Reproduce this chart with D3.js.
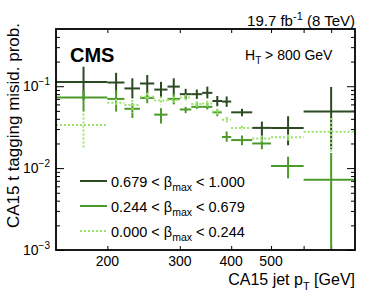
<!DOCTYPE html>
<html>
<head>
<meta charset="utf-8">
<script src="https://cdn.jsdelivr.net/npm/d3@7"></script>
<style>
body { margin: 0; background: #fff; }
text { font-family: "Liberation Sans", Arial, sans-serif; fill: #000; }
</style>
</head>
<body>
<div id="chart"></div>
<script>
// bin edges of the CA15 jet pT histogram (GeV)
var binEdges = [150, 200, 220, 240, 260, 280, 300, 320, 340, 360, 380, 400, 450, 500, 600, 800];

// 0.679 < beta_max < 1.000
var highVal  = [0.113, 0.111, 0.094, 0.108, 0.091, 0.099, 0.080, 0.080, 0.083, 0.066, 0.065, 0.048, 0.031, 0.031, 0.049];
var highUp   = [0.060, 0.035, 0.031, 0.029, 0.022, 0.026, 0.013, 0.011, 0.016, 0.010, 0.010, 0.005, 0.006, 0.012, 0.049];
var highDown = [0.045, 0.029, 0.023, 0.026, 0.018, 0.021, 0.010, 0.010, 0.012, 0.009, 0.009, 0.005, 0.011, 0.012, 0.032];

// 0.244 < beta_max < 0.679
var midVal  = [0.073, 0.070, 0.053, 0.072, 0.045, 0.070, 0.052, 0.056, 0.056, 0.048, 0.024, 0.022, 0.020, 0.0106, 0.0072];
var midUp   = [0.017, 0.020, 0.009, 0.014, 0.009, 0.012, 0.004, 0.007, 0.007, 0.004, 0.004, 0.003, 0.003, 0.0032, 0.0081];
var midDown = [0.024, 0.021, 0.012, 0.010, 0.010, 0.010, 0.005, 0.003, 0.004, 0.005, 0.003, 0.003, 0.003, 0.0031, 0.0072];

// 0.000 < beta_max < 0.244
var lowVal  = [0.0336, 0.063, 0.059, 0.0745, 0.067, 0.068, 0.073, 0.0606, 0.0615, 0.049, 0.039, 0.031, 0.023, 0.0238, 0.0278];
var lowUp   = [0.013, 0.007, 0.009, 0.008, 0.008, 0.007, 0.006, 0.005, 0.005, 0.004, 0.003, 0.002, 0.002, 0.002, 0.013];
var lowDown = [0.016, 0.007, 0.012, 0.008, 0.008, 0.007, 0.006, 0.005, 0.005, 0.004, 0.003, 0.002, 0.002, 0.002, 0.012];

var legendLabels = [["0.679", "1.000"], ["0.244", "0.679"], ["0.000", "0.244"]];

var xTickValues = [200, 300, 400, 500, 600, 700];
var xTickLabels = [200, 300, 400, 500];
var yMajorValues = [1e-3, 1e-2, 1e-1];
var yExponents = ["\u22123", "\u22122", "\u22121"];

var svgWidth = 374, svgHeight = 296;
var margin = {top: 29, right: 19, bottom: 46, left: 56};
var chartWidth = svgWidth - margin.left - margin.right;
var chartHeight = svgHeight - margin.top - margin.bottom;

var svg = d3.select("#chart").append("svg")
    .attr("width", svgWidth)
    .attr("height", svgHeight);

var xScale = d3.scaleLog().domain([150, 800]).range([margin.left, margin.left + chartWidth]);
var yScale = d3.scaleLog().domain([1e-3, 0.5]).range([margin.top + chartHeight, margin.top]);

// minor ticks on the log y axis
var yMinorValues = [];
[1e-3, 1e-2, 1e-1].forEach(function(d) {
    for (var k = 2; k <= 9; k++) {
        if (d * k < 0.5) yMinorValues.push(d * k);
    }
});

function tickAxis(axis, tx, ty) {
    var g = svg.append("g")
        .attr("transform", "translate(" + tx + "," + ty + ")")
        .call(axis);
    g.select(".domain").remove();
    g.selectAll("line").attr("stroke", "#000").attr("stroke-width", 1);
    return g;
}

var frameLeft = margin.left, frameRight = margin.left + chartWidth;
var frameTop = margin.top, frameBottom = margin.top + chartHeight;

tickAxis(d3.axisLeft(yScale).tickValues(yMinorValues).tickSize(-4).tickFormat(""), frameLeft, 0);
tickAxis(d3.axisLeft(yScale).tickValues(yMajorValues).tickSize(-8).tickFormat(""), frameLeft, 0);
tickAxis(d3.axisRight(yScale).tickValues(yMinorValues).tickSize(-4).tickFormat(""), frameRight, 0);
tickAxis(d3.axisRight(yScale).tickValues(yMajorValues).tickSize(-8).tickFormat(""), frameRight, 0);
tickAxis(d3.axisBottom(xScale).tickValues(xTickValues).tickSize(-4).tickFormat(""), 0, frameBottom);
tickAxis(d3.axisTop(xScale).tickValues(xTickValues).tickSize(-4).tickFormat(""), 0, frameTop);

// x tick labels
svg.append("g").selectAll("text")
    .data(xTickLabels)
    .enter()
    .append("text")
    .attr("x", d => xScale(d))
    .attr("y", frameBottom + 16)
    .attr("text-anchor", "middle")
    .style("font-size", "14px")
    .text(d => d);

// y tick labels 10^n
var yLab = svg.append("g").selectAll("text")
    .data(yMajorValues)
    .enter()
    .append("text")
    .attr("x", frameLeft - 6)
    .attr("y", d => yScale(d) + 5)
    .attr("text-anchor", "end")
    .style("font-size", "14px");
yLab.append("tspan").text("10");
yLab.append("tspan").attr("dy", -6).style("font-size", "10px").text((d, i) => yExponents[i]);

// data
svg.append("clipPath").attr("id", "frame")
    .append("rect")
    .attr("x", frameLeft).attr("y", frameTop)
    .attr("width", chartWidth).attr("height", chartHeight);

var plot = svg.append("g").attr("clip-path", "url(#frame)");

var series = [
    {val: highVal, up: highUp, down: highDown, color: "#2b4a22", dash: null},
    {val: midVal, up: midUp, down: midDown, color: "#4c9a2a", dash: null},
    {val: lowVal, up: lowUp, down: lowDown, color: "#99e36b", dash: "2,2"}
];

series.forEach(function(s) {
    var bins = s.val.map(function(v, i) {
        return {lo: binEdges[i], hi: binEdges[i + 1], v: v, up: s.up[i], down: s.down[i]};
    });
    var g = plot.append("g")
        .attr("stroke", s.color)
        .attr("stroke-width", 2)
        .attr("stroke-dasharray", s.dash);
    g.selectAll(".h").data(bins).enter().append("line")
        .attr("x1", d => xScale(d.lo))
        .attr("x2", d => xScale(d.hi))
        .attr("y1", d => yScale(d.v))
        .attr("y2", d => yScale(d.v));
    g.selectAll(".v").data(bins).enter().append("line")
        .attr("x1", d => xScale((d.lo + d.hi) / 2))
        .attr("x2", d => xScale((d.lo + d.hi) / 2))
        .attr("y1", d => yScale(d.v + d.up))
        .attr("y2", d => yScale(Math.max(d.v - d.down, 5e-4)));
});

// frame
svg.append("rect")
    .attr("x", frameLeft).attr("y", frameTop)
    .attr("width", chartWidth).attr("height", chartHeight)
    .attr("fill", "none")
    .attr("stroke", "#000")
    .attr("stroke-width", 1.8);

// legend
var legend = svg.append("g").selectAll("g")
    .data(series)
    .enter()
    .append("g")
    .attr("transform", (d, i) => "translate(0," + (181 + i * 25) + ")");
legend.append("line")
    .attr("x1", 80).attr("x2", 107)
    .attr("stroke", d => d.color)
    .attr("stroke-width", 2)
    .attr("stroke-dasharray", d => d.dash);
var legText = legend.append("text")
    .attr("x", 111)
    .attr("y", 5.5)
    .style("font-size", "14.5px");
legText.append("tspan").text((d, i) => legendLabels[i][0] + " < \u03b2");
legText.append("tspan").attr("dy", 4).style("font-size", "10.5px").text("max");
legText.append("tspan").attr("dy", -4).text((d, i) => " < " + legendLabels[i][1]);

// labels
var lumi = svg.append("text")
    .attr("x", frameRight).attr("y", 26)
    .attr("text-anchor", "end")
    .style("font-size", "15px");
lumi.append("tspan").text("19.7 fb");
lumi.append("tspan").attr("dy", -6).style("font-size", "11px").text("-1");
lumi.append("tspan").attr("dy", 6).text(" (8 TeV)");

svg.append("text")
    .attr("x", 70).attr("y", 62)
    .style("font-size", "20px")
    .style("font-weight", "bold")
    .text("CMS");

var ht = svg.append("text")
    .attr("x", 245).attr("y", 59.5)
    .style("font-size", "14px");
ht.append("tspan").text("H");
ht.append("tspan").attr("dy", 4).style("font-size", "10px").text("T");
ht.append("tspan").attr("dy", -4).text(" > 800 GeV");

var xTitle = svg.append("text")
    .attr("x", frameRight).attr("y", 285)
    .attr("text-anchor", "end")
    .style("font-size", "16px");
xTitle.append("tspan").text("CA15 jet p");
xTitle.append("tspan").attr("dy", 5).style("font-size", "11px").text("T");
xTitle.append("tspan").attr("dy", -5).text(" [GeV]");

svg.append("text")
    .attr("transform", "translate(19," + (frameTop - 6) + ") rotate(-90)")
    .attr("text-anchor", "end")
    .style("font-size", "17px")
    .text("CA15 t tagging misid. prob.");
</script>
</body>
</html>
